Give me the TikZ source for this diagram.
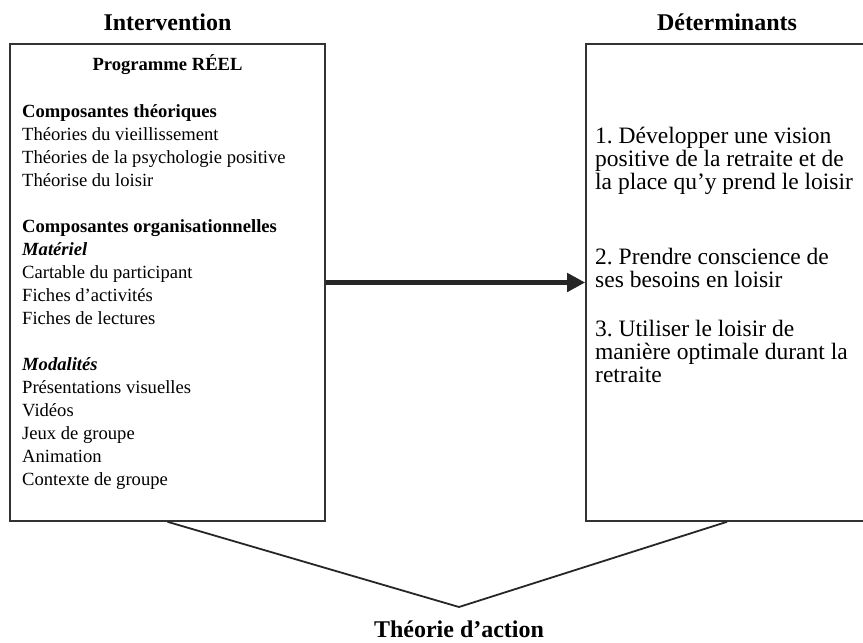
\documentclass[tikz,border=0pt]{standalone}
\usepackage{fontspec}
\setmainfont{Liberation Serif}
\usetikzlibrary{arrows.meta,positioning}
\frenchspacing

\begin{document}
\begin{tikzpicture}[x=1pt,y=-1pt]
        \tikzset{box/.style={draw=black!80, line width=1.6pt, minimum width=#1, minimum height=477pt, inner sep=0pt},
                 head/.style={font=\fontsize{24}{26}\selectfont\bfseries, inner sep=0pt},
                 leftlist/.style={font=\fontsize{18.6}{23}\selectfont, align=left, anchor=north west, inner sep=0pt},
                 rightlist/.style={font=\fontsize{23.5}{23}\selectfont, align=left, anchor=north west, inner sep=0pt},
                 link/.style={draw=black!85, line width=1.8pt}}
        \useasboundingbox (0,0) rectangle (863,643);
        % boxes and titles
        \node[box=315pt] (interv) at (167.5,282.5) {};
        \node[box=282pt] (determ) at (727,282.5) {};
        \node[head, above=12pt of interv] (intervlbl) {Intervention};
        \node[head, above=12pt of determ] (determlbl) {Déterminants};
        
        % left box content
        \node[font=\fontsize{18.6}{23}\selectfont\bfseries, inner sep=0pt, below=11pt of interv.north] (prog) {Programme RÉEL};
        \node[leftlist] (theo) at (22,104) {\textbf{Composantes théoriques}\\
            Théories du vieillissement\\
            Théories de la psychologie positive\\
            Théorise du loisir};
        \node[leftlist] (orga) at (22,219) {\textbf{Composantes organisationnelles}\\
            \textbf{\textit{Matériel}}\\
            Cartable du participant\\
            Fiches d’activités\\
            Fiches de lectures};
        \node[leftlist] (moda) at (22,357) {\textbf{\textit{Modalités}}\\
            Présentations visuelles\\
            Vidéos\\
            Jeux de groupe\\
            Animation\\
            Contexte de groupe};
        
        % right box content
        \node[rightlist] (det1) at (595,127) {1. Développer une vision\\
            positive de la retraite et de\\
            la place qu’y prend le loisir};
        \node[rightlist] (det2) at (595,248) {2. Prendre conscience de\\
            ses besoins en loisir};
        \node[rightlist] (det3) at (595,320) {3. Utiliser le loisir de\\
            manière optimale durant la\\
            retraite};
        
        % arrow and action theory
        \draw[line width=5pt, draw=black!85, -{Triangle[length=18pt, width=18pt]}] (interv.east) -- (determ.west);
        \coordinate (apex) at (459,607);
        \draw[link] (interv.south) -- (apex) -- (determ.south);
        \node[head, below=14pt of apex] (actlbl) {Théorie d’action};
\end{tikzpicture}
\end{document}
